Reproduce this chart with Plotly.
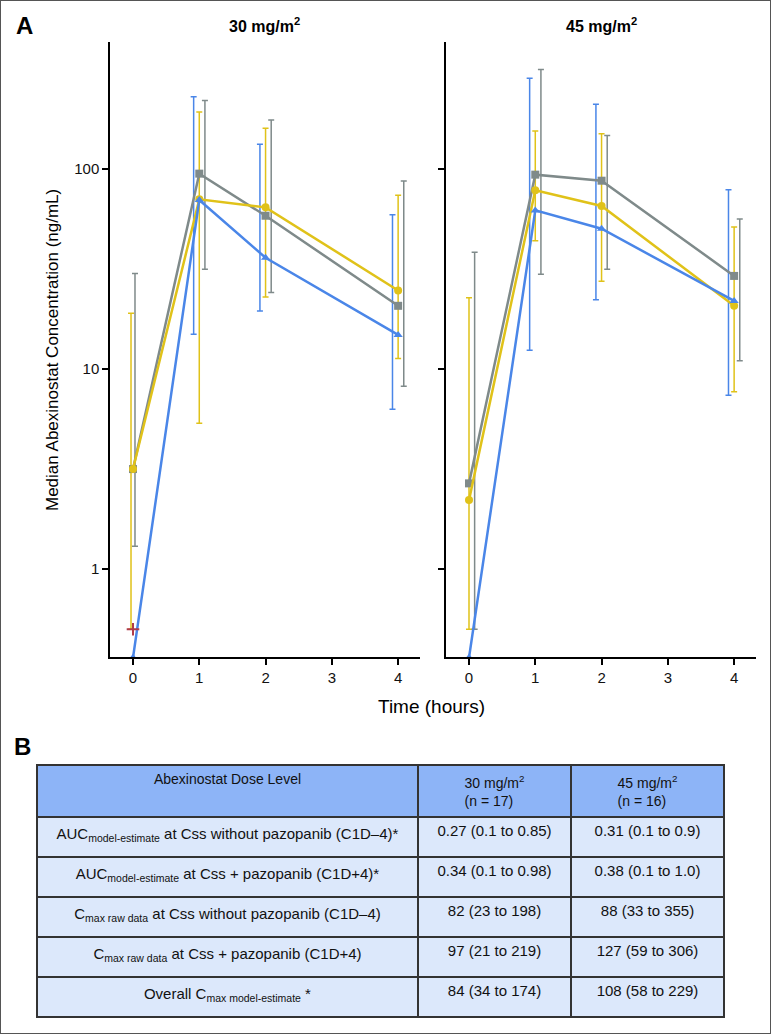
import plotly.graph_objects as go

# Sampling times (hours)
times = [0, 1, 2, 4]

# 30 mg/m2 panel: medians and error bar limits
blue_30 = [0.36, 70, 36, 14.8]
blue_30_lo = [None, 14.9, 19.5, 6.3]
blue_30_hi = [None, 230, 133, 59]
yellow_30 = [3.16, 70.5, 64.3, 24.7]
yellow_30_lo = [0.5, 5.35, 22.9, 11.3]
yellow_30_hi = [19, 193, 160, 74]
gray_30 = [3.16, 94.8, 58.4, 20.7]
gray_30_lo = [1.3, 31.5, 24.1, 8.2]
gray_30_hi = [30, 220, 176, 87]

# 45 mg/m2 panel
blue_45 = [0.36, 62.1, 50.3, 21.9]
blue_45_lo = [None, 12.4, 22.2, 7.4]
blue_45_hi = [None, 284, 211, 78.8]
yellow_45 = [2.21, 78.2, 65.3, 20.7]
yellow_45_lo = [0.5, 43.8, 27.5, 7.7]
yellow_45_hi = [22.7, 155, 150, 51.3]
gray_45 = [2.68, 93.7, 87.4, 29.2]
gray_45_lo = [0.5, 29.8, 31.5, 11.0]
gray_45_hi = [38.3, 314, 147, 56.2]

# lone point at t=0 in the 30 mg/m2 panel
cross_x = [0]
cross_y = [0.5]

# table B
table_header = ['Abexinostat Dose Level', '30 mg/m<sup>2</sup><br>(n = 17)', '45 mg/m<sup>2</sup><br>(n = 16)']
row_labels = [
    'AUC<sub>model-estimate</sub> at Css without pazopanib (C1D\u20134)*',
    'AUC<sub>model-estimate</sub> at Css + pazopanib (C1D+4)*',
    'C<sub>max raw data</sub> at Css without pazopanib (C1D\u20134)',
    'C<sub>max raw data</sub> at Css + pazopanib (C1D+4)',
    'Overall C<sub>max model-estimate</sub> *',
]
col_30 = ['0.27 (0.1 to 0.85)', '0.34 (0.1 to 0.98)', '82 (23 to 198)', '97 (21 to 219)', '84 (34 to 174)']
col_45 = ['0.31 (0.1 to 0.9)', '0.38 (0.1 to 1.0)', '88 (33 to 355)', '127 (59 to 306)', '108 (58 to 229)']

BLUE = '#4a86e8'
YELLOW = '#e0c219'
GRAY = '#7f8a8a'
RED = '#b03a48'
SANS = 'Liberation Sans, Arial, sans-serif'

W, H = 771, 1034

def px(x):
    return x / W

def py(y):
    return 1 - y / H

fig = go.Figure()

# (color, symbol, medians, low, high, error-bar shift at t=0, shift elsewhere)
panels = [
    ('x', 'y', [
        (BLUE, 'triangle-up', blue_30, blue_30_lo, blue_30_hi, -0.085, -0.085),
        (YELLOW, 'circle', yellow_30, yellow_30_lo, yellow_30_hi, -0.03, 0.0),
        (GRAY, 'square', gray_30, gray_30_lo, gray_30_hi, 0.03, 0.085),
    ]),
    ('x2', 'y2', [
        (BLUE, 'triangle-up', blue_45, blue_45_lo, blue_45_hi, -0.085, -0.085),
        (YELLOW, 'circle', yellow_45, yellow_45_lo, yellow_45_hi, 0.0, 0.0),
        (GRAY, 'square', gray_45, gray_45_lo, gray_45_hi, 0.085, 0.085),
    ]),
]

for xa, ya, series in panels:
    # error bars first, slightly offset in time like the original
    for color, sym, vals, lo, hi, off0, off in series:
        ex, ey, up, dn = [], [], [], []
        for i, t in enumerate(times):
            if lo[i] is None:
                continue
            ex.append(t + (off0 if t == 0 else off))
            ey.append(vals[i])
            up.append(hi[i] - vals[i])
            dn.append(vals[i] - lo[i])
        fig.add_trace(go.Scatter(
            x=ex, y=ey, mode='markers', xaxis=xa, yaxis=ya,
            marker=dict(size=1, opacity=0), showlegend=False, hoverinfo='skip',
            error_y=dict(type='data', symmetric=False, array=up, arrayminus=dn,
                         color=color, thickness=1.5, width=3)
        ))
    # median lines on top (gray drawn under yellow/blue)
    for color, sym, vals, lo, hi, off0, off in [series[2], series[1], series[0]]:
        fig.add_trace(go.Scatter(
            x=times, y=vals, mode='lines+markers', xaxis=xa, yaxis=ya,
            line=dict(color=color, width=2.5),
            marker=dict(color=color, symbol=sym, size=8),
            showlegend=False
        ))

fig.add_trace(go.Scatter(
    x=cross_x, y=cross_y, mode='markers', xaxis='x', yaxis='y',
    marker=dict(symbol='cross-thin', size=9, line=dict(color=RED, width=2)),
    showlegend=False
))

fig.add_trace(go.Table(
    domain=dict(x=[px(37), px(724)], y=[py(1022), py(765)]),
    columnwidth=[381, 153, 153],
    header=dict(values=table_header, fill_color='#8db4f7', line=dict(color='#333', width=1.5),
                align='center', font=dict(family=SANS, size=14, color='#111'), height=46),
    cells=dict(values=[row_labels, col_30, col_45], fill_color='#dce8fb',
               line=dict(color='#333', width=1.5), align='center',
               font=dict(family=SANS, size=15, color='#111'), height=40),
))

yaxis_common = dict(
    type='log', range=[-0.44, 2.635], tickvals=[1, 10, 100], ticks='outside', ticklen=6,
    tickwidth=1.5, showline=True, linecolor='black', linewidth=1.5, showgrid=False,
    zeroline=False, tickfont=dict(family=SANS, size=15, color='#111'), tickcolor='black',
    domain=[py(657), py(42)]
)
xaxis_common = dict(
    range=[-0.347, 4.33], tickvals=[0, 1, 2, 3, 4], ticks='outside', ticklen=6, tickwidth=1.5,
    showline=True, linecolor='black', linewidth=1.5, showgrid=False, zeroline=False,
    tickfont=dict(family=SANS, size=15, color='#111'), tickcolor='black'
)

def label(text, x, y, size, angle=0):
    return dict(text=text, x=px(x), y=py(y), xref='paper', yref='paper', showarrow=False,
                xanchor='center', yanchor='middle', textangle=angle,
                font=dict(family=SANS, size=size, color='black'))

fig.update_layout(
    width=W, height=H, margin=dict(l=0, r=0, t=0, b=0),
    paper_bgcolor='white', plot_bgcolor='white', showlegend=False,
    xaxis=dict(xaxis_common, domain=[px(110), px(420)], anchor='y'),
    xaxis2=dict(xaxis_common, domain=[px(446), px(756)], anchor='y2'),
    yaxis=dict(yaxis_common, anchor='x'),
    yaxis2=dict(yaxis_common, anchor='x2', showticklabels=False),
    shapes=[dict(type='rect', xref='paper', yref='paper', x0=0, x1=1, y0=0, y1=1,
                 line=dict(color='#555', width=2))],
    annotations=[
        label('<b>A</b>', 24, 25, 24),
        label('<b>B</b>', 22, 746, 24),
        label('<b>30 mg/m<sup>2</sup></b>', 264, 25, 16),
        label('<b>45 mg/m<sup>2</sup></b>', 601, 25, 16),
        label('Median Abexinostat Concentration (ng/mL)', 52, 350, 17, -90),
        label('Time (hours)', 431, 706, 19),
    ],
)

fig.write_html('out.html', config={'displayModeBar': False},
               post_script="document.body.style.margin='0';document.body.style.overflow='hidden';")
